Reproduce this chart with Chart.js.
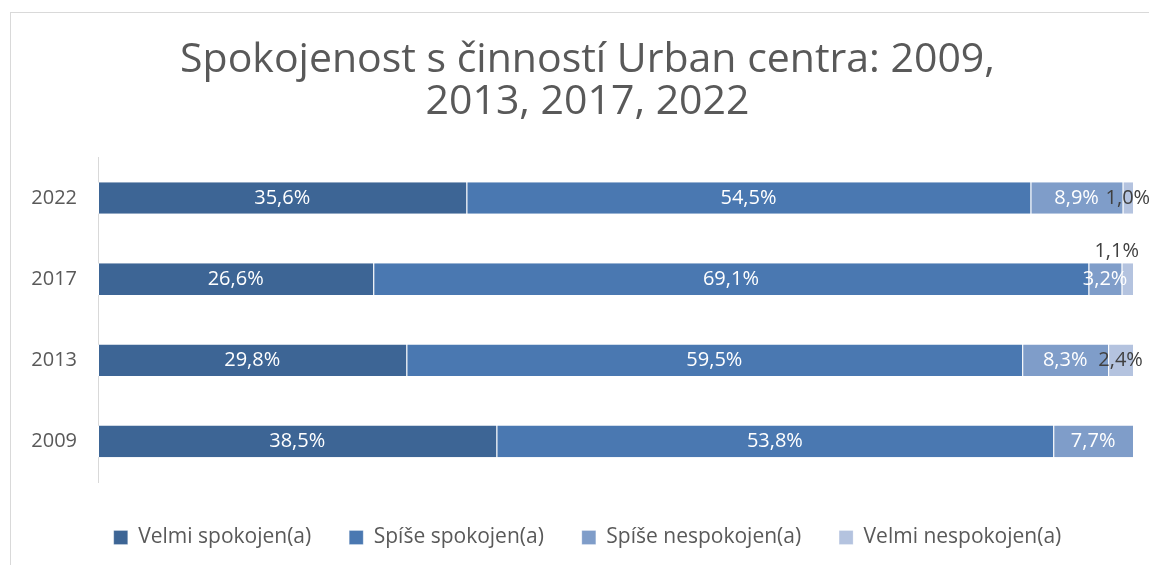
<!DOCTYPE html>
<html>
<head>
<meta charset="utf-8">
<script src="https://cdn.jsdelivr.net/npm/chart.js@4"></script>
<style>
  body { margin: 0; background: #fff; overflow: hidden; }
  #frame { position: absolute; left: 10px; top: 12px; width: 1200px; height: 600px; border: 1px solid #d9d9d9; }
  #wrap { position: absolute; left: 10px; top: 12px; width: 1155px; height: 575px; }
</style>
</head>
<body>
<div id="frame"></div>
<div id="wrap"><canvas id="myChart"></canvas></div>
<script>
// data
const Years = ["2022", "2017", "2013", "2009"];
const SeriesNames = ["Velmi spokojen(a)", "Spíše spokojen(a)", "Spíše nespokojen(a)", "Velmi nespokojen(a)"];
const VelmiSpokojen = [35.6, 26.6, 29.8, 38.5];
const SpiseSpokojen = [54.5, 69.1, 59.5, 53.8];
const SpiseNespokojen = [8.9, 3.2, 8.3, 7.7];
const VelmiNespokojen = [1.0, 1.1, 2.4, 0];
const Colors = ["#3d6595", "#4a78b1", "#7f9dc9", "#b4c3df"];

const FONT = "'Open Sans'";
const fmt = (v) => v.toFixed(1).replace(".", ",") + "%";

// draws the value of every segment inside its bar
const barLabels = {
  id: "barLabels",
  afterDatasetsDraw(chart) {
    const ctx = chart.ctx;
    ctx.save();
    ctx.font = "20px " + FONT;
    ctx.textAlign = "center";
    ctx.textBaseline = "middle";
    Years.forEach((y, i) => {
      let lastRight = -1e9;
      chart.data.datasets.forEach((ds, d) => {
        const v = ds.data[i];
        if (!v) return;
        const el = chart.getDatasetMeta(d).data[i];
        const p = el.getProps(["x", "y", "base", "height"], true);
        const txt = fmt(v);
        const w = ctx.measureText(txt).width;
        let cx = (p.x + p.base) / 2;
        let cy = p.y;
        const small = v < 3;
        ctx.fillStyle = small ? "#404040" : "#ffffff";
        if (cx - w / 2 < lastRight) {
          // no room: lift it above the bar
          cx = Math.min(cx, p.x - w / 2 + 6);
          cy = p.y - p.height / 2 - 12;
          ctx.fillStyle = "#404040";
        } else {
          lastRight = cx + w / 2;
        }
        ctx.fillText(txt, cx, cy);
      });
    });
    ctx.restore();
  },
};

ctx = document.getElementById("myChart").getContext("2d");
myChart = new Chart(ctx, {
  type: "bar",
  data: {
    labels: Years,
    datasets: [VelmiSpokojen, SpiseSpokojen, SpiseNespokojen, VelmiNespokojen].map((arr, k) => ({
      label: SeriesNames[k],
      data: arr,
      backgroundColor: Colors[k],
      borderColor: "#ffffff",
      borderWidth: { left: 1, right: 0, top: 0, bottom: 0 },
      borderSkipped: false,
      barPercentage: 0.39,
      categoryPercentage: 1,
    })),
  },
  options: {
    indexAxis: "y",
    responsive: true,
    maintainAspectRatio: false,
    animation: false,
    layout: { padding: { left: 0, right: 0, top: 0, bottom: 29 } },
    plugins: {
      title: {
        display: true,
        text: ["Spokojenost s činností Urban centra: 2009,", "2013, 2017, 2022"],
        color: "#595959",
        font: { family: FONT, size: 41, weight: "normal", lineHeight: 1.03 },
        padding: { top: 27, bottom: 34 },
      },
      legend: {
        position: "bottom",
        labels: {
          color: "#595959",
          font: { family: FONT, size: 21 },
          boxWidth: 14,
          boxHeight: 14,
          padding: 38,
        },
      },
      tooltip: { enabled: false },
    },
    scales: {
      x: {
        stacked: true,
        min: 0,
        max: 100,
        ticks: { display: false },
        grid: { display: false },
        border: { display: false },
        afterFit: (s) => { s.height = 7; },
      },
      y: {
        stacked: true,
        grid: { drawOnChartArea: false, drawTicks: false },
        border: { display: true, color: "#d9d9d9", width: 1 },
        ticks: { color: "#595959", font: { family: FONT, size: 20 }, padding: 21 },
        afterFit: (s) => { s.width = 88; },
      },
      // empty right-hand spacer so title and legend stay centred on the frame
      yRight: {
        type: "linear",
        position: "right",
        ticks: { display: false },
        grid: { display: false },
        border: { display: false },
        afterFit: (s) => { s.width = 32; },
      },
    },
  },
  plugins: [barLabels],
});
</script>
</body>
</html>
